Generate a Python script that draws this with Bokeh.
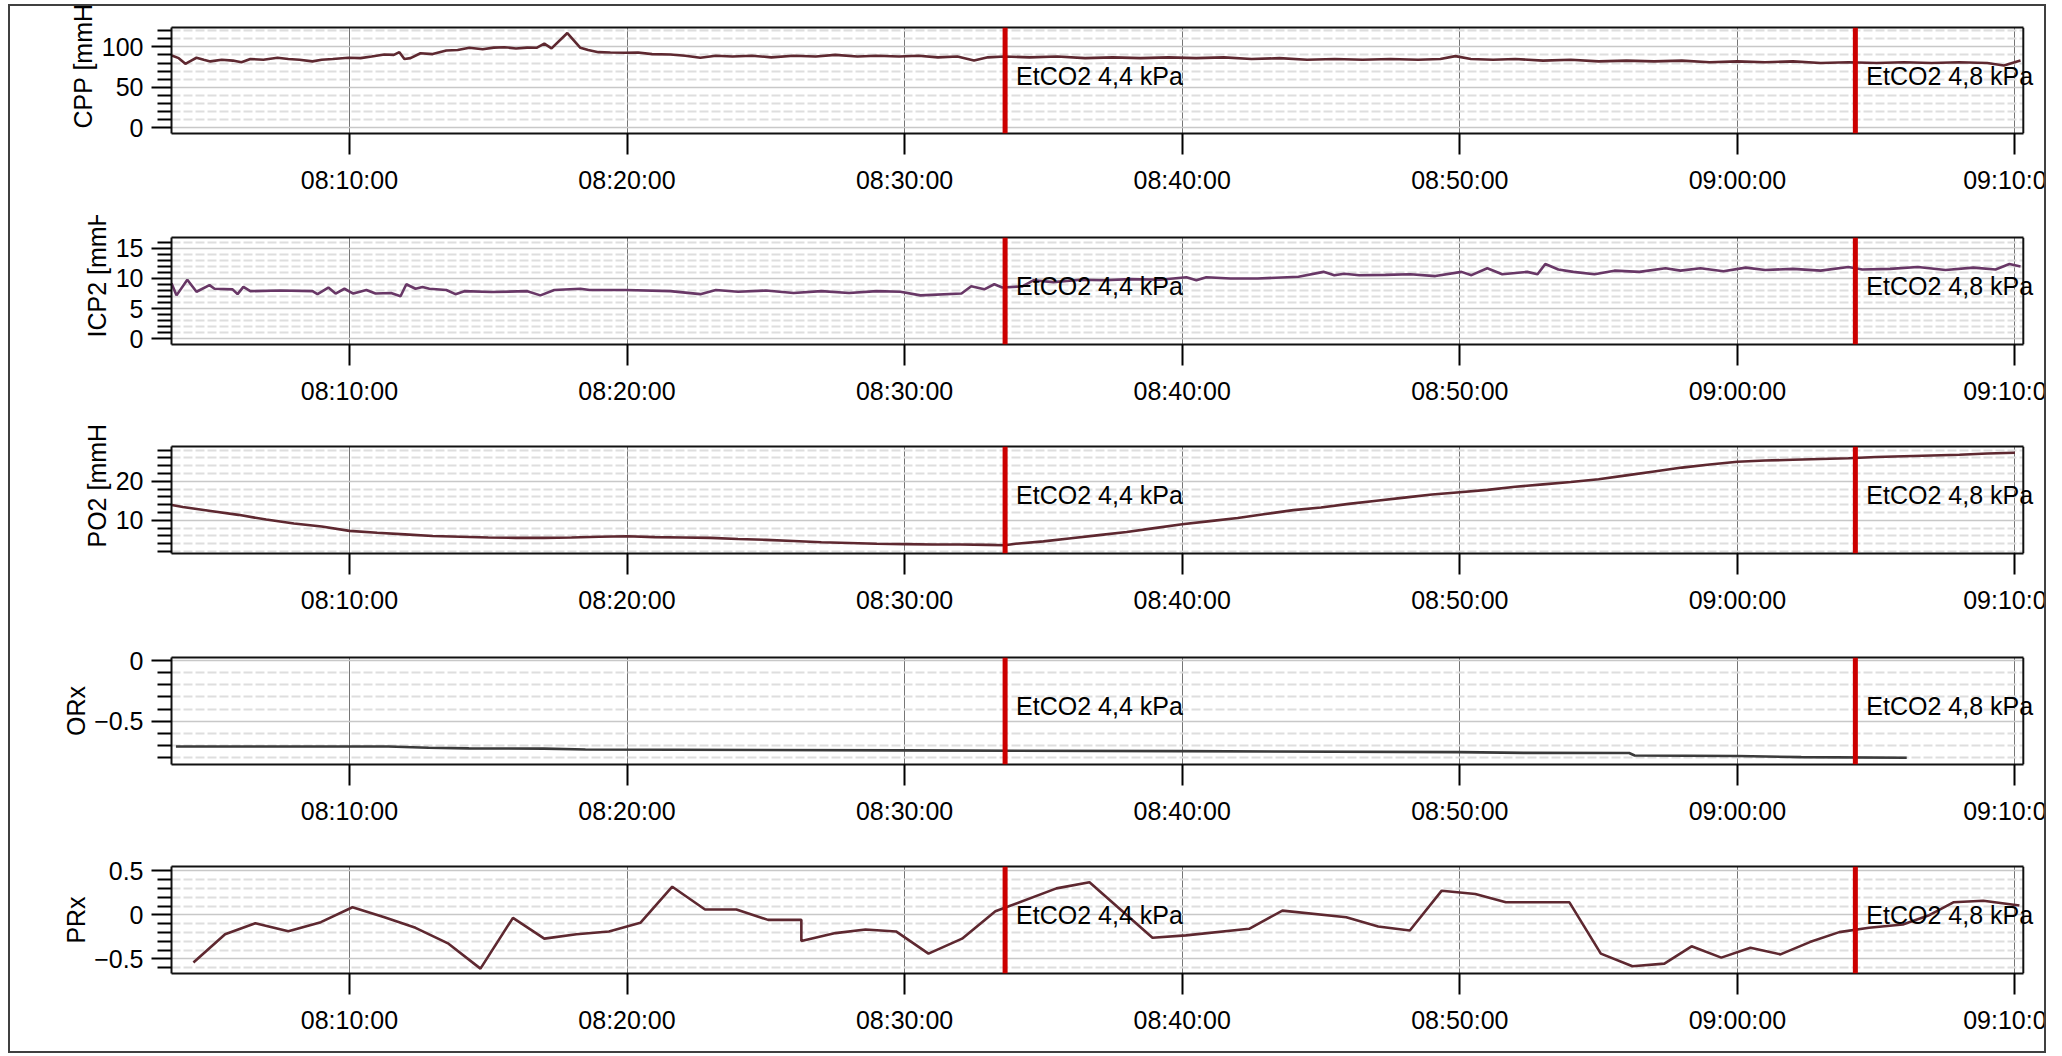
import pandas as pd
from bokeh.plotting import figure
from bokeh.models import Range1d, FixedTicker, DatetimeTickFormatter, Span, Label, Title, LinearAxis
from bokeh.layouts import column
from bokeh.embed import file_html
from bokeh.resources import INLINE

FONT = "Liberation Sans"
FS = "25px"
BASE = pd.Timestamp("2024-01-01 08:00:00")

# ---------------- data (minutes after 08:00) ----------------
CPP_MIN = [3.60, 3.85, 4.09, 4.30, 4.49, 4.75, 4.99, 5.40, 5.80, 6.11, 6.43, 6.90, 7.41, 7.80, 8.20, 8.67,
           9.00, 9.40, 9.96, 10.40, 10.80, 11.26, 11.60, 11.80, 11.98, 12.20, 12.56, 13.00, 13.49, 13.90,
           14.32, 14.80, 15.20, 15.58, 16.00, 16.40, 16.74, 17.02, 17.28, 17.85, 18.32, 18.60, 18.97, 19.40,
           19.94, 20.40, 20.90, 21.56, 22.10, 22.64, 23.20, 23.80, 24.50, 25.20, 26.00, 26.80, 27.50, 28.30,
           29.00, 29.80, 30.50, 31.20, 31.90, 32.50, 33.00, 33.60, 34.50, 35.50, 36.50, 37.50, 38.50, 39.50,
           40.50, 41.50, 42.50, 43.50, 44.50, 45.50, 46.50, 47.50, 48.50, 49.30, 49.84, 50.40, 51.20, 52.00,
           53.00, 54.00, 55.00, 56.00, 57.00, 58.00, 59.00, 60.00, 61.00, 62.00, 63.00, 64.00, 65.00, 66.00,
           67.00, 68.00, 69.00, 69.60, 70.20]
CPP_VAL = [89.3, 86, 79, 83, 86.5, 84, 82, 84, 83, 81, 85, 84, 86.5, 85, 84, 82,
           84, 85, 86.5, 86, 88, 90.5, 90, 93.4, 85, 86, 92, 91, 95.5, 96,
           98.8, 97, 99, 99.5, 98, 99, 98.8, 104, 98, 117, 98.8, 96, 93.4, 93,
           92.6, 93, 91, 90.5, 89, 86.5, 89, 88, 89, 87, 89, 88, 90, 88,
           89, 88, 89, 87, 88, 83, 87, 88, 87, 88, 86, 87, 86, 87,
           86, 87, 85, 86, 84, 85, 84, 85, 84, 85, 88.5, 85, 84, 85,
           83, 84, 82, 83, 82, 83, 81, 82, 81, 82, 80, 81, 80, 81,
           80, 81, 80, 77, 83]

ICP_MIN = [3.59, 3.77, 4.16, 4.49, 4.96, 5.14, 5.79, 5.97, 6.18, 6.43, 7.50, 8.67, 8.85, 9.24, 9.50, 9.82,
           10.14, 10.61, 10.94, 11.50, 11.84, 12.05, 12.38, 12.63, 12.88, 13.49, 13.82, 14.14, 15.12, 16.41,
           16.88, 17.38, 18.32, 18.65, 19.94, 21.56, 22.64, 23.20, 24.00, 25.00, 26.00, 27.00, 28.00, 29.00,
           29.85, 30.57, 32.05, 32.40, 32.87, 33.23, 33.52, 34.24, 34.64, 35.36, 36.33, 37.20, 38.13, 39.20,
           40.15, 40.51, 40.87, 41.74, 42.71, 44.19, 45.09, 45.48, 45.84, 46.38, 47.32, 48.22, 49.12, 50.06,
           50.42, 50.99, 51.53, 52.43, 52.80, 53.08, 53.55, 54.09, 54.85, 55.57, 56.47, 57.41, 57.95, 58.67,
           59.50, 60.30, 61.00, 62.00, 63.00, 64.00, 64.50, 65.50, 66.50, 67.50, 68.50, 69.30, 69.80, 70.20]
ICP_VAL = [9.2, 7.2, 9.8, 7.8, 8.9, 8.3, 8.2, 7.4, 8.6, 7.9, 8.0, 7.9, 7.4, 8.5, 7.5, 8.3,
           7.5, 8.1, 7.5, 7.6, 7.05, 9.05, 8.3, 8.6, 8.3, 8.1, 7.4, 7.9, 7.75, 7.9,
           7.2, 8.1, 8.3, 8.1, 8.1, 7.9, 7.4, 8.1, 7.8, 8.0, 7.6, 7.9, 7.6, 7.9,
           7.8, 7.2, 7.5, 8.7, 8.2, 9.05, 8.5, 8.7, 9.7, 9.4, 9.8, 9.7, 9.9, 9.8,
           10.2, 9.7, 10.2, 10.0, 10.0, 10.3, 11.1, 10.55, 10.8, 10.55, 10.6, 10.7, 10.4, 11.1,
           10.55, 11.7, 10.7, 11.1, 10.7, 12.4, 11.5, 11.1, 10.7, 11.3, 11.1, 11.7, 11.3, 11.7,
           11.2, 11.8, 11.4, 11.6, 11.3, 11.9, 11.5, 11.6, 11.9, 11.4, 11.8, 11.5, 12.4, 12.0]

PO2_MIN = [3.6, 4, 5, 6, 7, 8, 9, 10, 11, 12, 13, 14, 15, 16, 17, 18, 19, 20, 21, 22, 23, 24, 25, 26, 27,
           28, 29, 30, 31, 32, 33, 33.6, 34, 35, 36, 37, 38, 39, 40, 41, 42, 43, 44, 45, 46, 47, 48, 49, 50,
           51, 52, 53, 54, 55, 56, 57, 58, 59, 60, 61, 62, 63, 64, 65, 66, 67, 68, 69, 70]
PO2_VAL = [13.9, 13.4, 12.4, 11.4, 10.2, 9.2, 8.4, 7.3, 6.8, 6.4, 6.0, 5.8, 5.6, 5.5, 5.5, 5.6, 5.8, 5.9,
           5.7, 5.6, 5.5, 5.2, 5.0, 4.7, 4.4, 4.2, 4.0, 3.9, 3.8, 3.8, 3.7, 3.6, 4.0, 4.6, 5.4, 6.2, 7.0,
           8.0, 9.0, 9.8, 10.6, 11.6, 12.6, 13.3, 14.2, 15.0, 15.8, 16.6, 17.2, 17.8, 18.6, 19.2, 19.8,
           20.5, 21.5, 22.5, 23.5, 24.3, 25.0, 25.3, 25.5, 25.7, 25.9, 26.2, 26.4, 26.6, 26.8, 27.1, 27.3]

ORX_MIN = [3.75, 11.4, 12.85, 14.3, 17.0, 18.5, 30.0, 40.0, 50.0, 52.3, 56.1, 56.3, 60.0, 62.3, 66.1]
ORX_VAL = [-0.711, -0.711, -0.722, -0.727, -0.729, -0.736, -0.744, -0.750, -0.758, -0.764, -0.766,
           -0.786, -0.790, -0.800, -0.805]

PRX_MIN = [4.38, 5.52, 6.61, 7.80, 8.97, 10.11, 11.26, 12.38, 13.57, 14.72, 15.89, 17.02, 18.18, 19.35,
           20.48, 21.63, 22.81, 23.94, 25.08, 26.28, 26.28, 27.51, 28.59, 29.69, 30.86, 32.07, 33.27, 35.47,
           36.66, 38.93, 40.13, 42.41, 43.61, 45.91, 47.06, 48.20, 49.35, 50.56, 51.66, 52.80, 53.95, 55.08,
           56.22, 57.37, 58.35, 59.42, 60.47, 61.55, 62.61, 63.67, 64.74, 65.96, 66.88, 67.78, 68.86, 70.16]
PRX_VAL = [-0.54, -0.22, -0.095, -0.185, -0.083, 0.086, -0.027, -0.147, -0.327, -0.61, -0.034, -0.27,
           -0.22, -0.188, -0.09, 0.319, 0.06, 0.06, -0.057, -0.057, -0.297, -0.207, -0.166, -0.188, -0.44,
           -0.27, 0.04, 0.30, 0.37, -0.26, -0.233, -0.158, 0.048, -0.027, -0.132, -0.177, 0.274, 0.237,
           0.142, 0.142, 0.142, -0.44, -0.583, -0.553, -0.357, -0.485, -0.372, -0.448, -0.309, -0.196,
           -0.147, -0.11, -0.008, 0.142, 0.16, 0.105]

EVENT_MIN = [33.62, 64.25]
EVENT_TEXT = ["EtCO2 4,4 kPa", "EtCO2 4,8 kPa"]

X_TICKS_MIN = [10, 20, 30, 40, 50, 60, 70]
X_VIEW_MIN = [3.59, 70.30]   # visible plot box (start, end)
X_CANVAS_END_MIN = 71.64     # frame runs past the box (to the canvas edge) so texts can overhang it


def ms(mins):
    return [(BASE + pd.Timedelta(minutes=m)).value / 1e6 for m in mins]


FW = 2050          # canvas width
VISIBLE_W = 2034   # part of the canvas shown inside the page frame


def panel(ylab, tmin, vals, color, yr, major, minor, top, h, bottom, lab_align, lab_offset):
    x0, xb = ms(X_VIEW_MIN)
    x1 = ms([X_CANVAS_END_MIN])[0]
    p = figure(width=FW, height=h, x_axis_type="datetime", output_backend="svg",
               toolbar_location=None, title=None,
               x_range=Range1d(x0, x1), y_range=Range1d(*yr),
               min_border_left=161, min_border_right=0, min_border_top=top, min_border_bottom=bottom,
               styles={"clip-path": f"inset(0px {FW - VISIBLE_W}px 0px 0px)"})
    p.outline_line_color = None
    p.background_fill_color = "white"
    p.border_fill_color = "white"

    # grids
    p.xgrid.grid_line_color = "#767676"
    p.xgrid.grid_line_width = 1
    p.ygrid.grid_line_color = "#c8c8c8"
    p.ygrid.grid_line_width = 1.5
    p.ygrid.minor_grid_line_color = "#dedede"
    p.ygrid.minor_grid_line_width = 2
    p.ygrid.minor_grid_line_dash = "9 3"

    # y axis (its line is the left side of the box)
    ya = p.yaxis[0]
    ya.ticker = FixedTicker(ticks=major, minor_ticks=minor)
    ya.axis_line_color = "#111111"
    ya.axis_line_width = 2
    ya.major_tick_out = 20
    ya.major_tick_in = 0
    ya.minor_tick_out = 14
    ya.minor_tick_in = 0
    ya.major_tick_line_width = 2
    ya.minor_tick_line_width = 2
    ya.major_tick_line_color = "black"
    ya.minor_tick_line_color = "black"
    ya.major_label_text_font = FONT
    ya.major_label_text_font_size = FS
    ya.major_label_text_color = "black"
    ya.major_label_standoff = 8

    # x axis (its line is the bottom of the box)
    xa = p.xaxis[0]
    xa.ticker = FixedTicker(ticks=ms(X_TICKS_MIN), minor_ticks=[])
    fmt = "%H:%M:%S"
    xa.formatter = DatetimeTickFormatter(microseconds=fmt, milliseconds=fmt, seconds=fmt, minsec=fmt,
                                         minutes=fmt, hourmin=fmt, hours=fmt, days=fmt, months=fmt, years=fmt)
    xa.bounds = (x0, xb)
    xa.axis_line_color = "#111111"
    xa.axis_line_width = 2
    xa.major_tick_out = 21
    xa.major_tick_in = 0
    xa.major_tick_line_width = 2
    xa.major_tick_line_color = "black"
    xa.minor_tick_line_color = None
    xa.major_label_text_font = FONT
    xa.major_label_text_font_size = FS
    xa.major_label_text_color = "black"
    xa.major_label_standoff = 11

    # top side of the box
    top_axis = LinearAxis(ticker=FixedTicker(ticks=[], minor_ticks=[]), bounds=(x0, xb),
                          axis_line_color="#111111", axis_line_width=2,
                          major_tick_line_color=None, minor_tick_line_color=None,
                          major_label_text_font_size="0px")
    p.add_layout(top_axis, "above")

    p.line(ms(tmin), vals, line_color=color, line_width=2.6)

    # blank the area right of the box, then its right side
    p.quad(left=[xb], right=[x1], bottom=[yr[0]], top=[yr[1]], fill_color="white", line_color=None)
    p.add_layout(Span(location=xb, dimension="height", line_color="#111111", line_width=2))

    ytxt = yr[0] + 0.545 * (yr[1] - yr[0])
    for em, txt in zip(ms(EVENT_MIN), EVENT_TEXT):
        p.add_layout(Span(location=em, dimension="height", line_color="#cc0000", line_width=5))
        p.add_layout(Label(x=em, y=ytxt, x_offset=11, text=txt, text_baseline="middle",
                           text_font=FONT, text_font_size=FS, text_color="black"))

    p.add_layout(Title(text=ylab, align=lab_align, offset=lab_offset, text_font=FONT,
                       text_font_size=FS, text_font_style="normal", text_color="black",
                       standoff=3), "left")
    return p


p1 = panel("CPP [mmHg]", CPP_MIN, CPP_VAL, "#5e2830", (-6.9, 123.8), [0, 50, 100],
           [10, 20, 30, 40, 60, 70, 80, 90, 110, 120], 21, 209, 82, "left", 5)
p2 = panel("ICP2 [mmHg]", ICP_MIN, ICP_VAL, "#683766", (-0.95, 16.8), [0, 5, 10, 15],
           [1, 2, 3, 4, 6, 7, 8, 9, 11, 12, 13, 14, 16], 22, 210, 81, "left", 7)
p3 = panel("PO2 [mmHg]", PO2_MIN, PO2_VAL, "#5e2830", (1.5, 28.9), [10, 20],
           [2, 4, 6, 8, 12, 14, 16, 18, 22, 24, 26, 28], 21, 210, 82, "left", 6)
p4 = panel("ORx", ORX_MIN, ORX_VAL, "#3a3a3a", (-0.861, 0.028), [0, -0.5],
           [-0.1, -0.2, -0.3, -0.4, -0.6, -0.7, -0.8], 22, 210, 81, "center", 0)
p5 = panel("PRx", PRX_MIN, PRX_VAL, "#5e2830", (-0.665, 0.548), [0.5, 0, -0.5],
           [0.4, 0.3, 0.2, 0.1, -0.1, -0.2, -0.3, -0.4, -0.6], 21, 206, 78, "center", 0)

FRAME = "#404040"
layout = column(p1, p2, p3, p4, p5, spacing=0, margin=(4, 0, 0, 8),
                styles={"border-left": f"2px solid {FRAME}", "border-top": f"2px solid {FRAME}",
                        "border-bottom": f"2px solid {FRAME}", "border-right": "none",
                        "background": (f"linear-gradient(to right, rgba(0,0,0,0) {VISIBLE_W}px, "
                                       f"{FRAME} {VISIBLE_W}px, {FRAME} {VISIBLE_W + 2}px, "
                                       f"rgba(0,0,0,0) {VISIBLE_W + 2}px)"),
                        "clip-path": f"inset(0px {FW - VISIBLE_W - 2}px 0px 0px)"})

open("out.html", "w").write(file_html(layout, INLINE))
